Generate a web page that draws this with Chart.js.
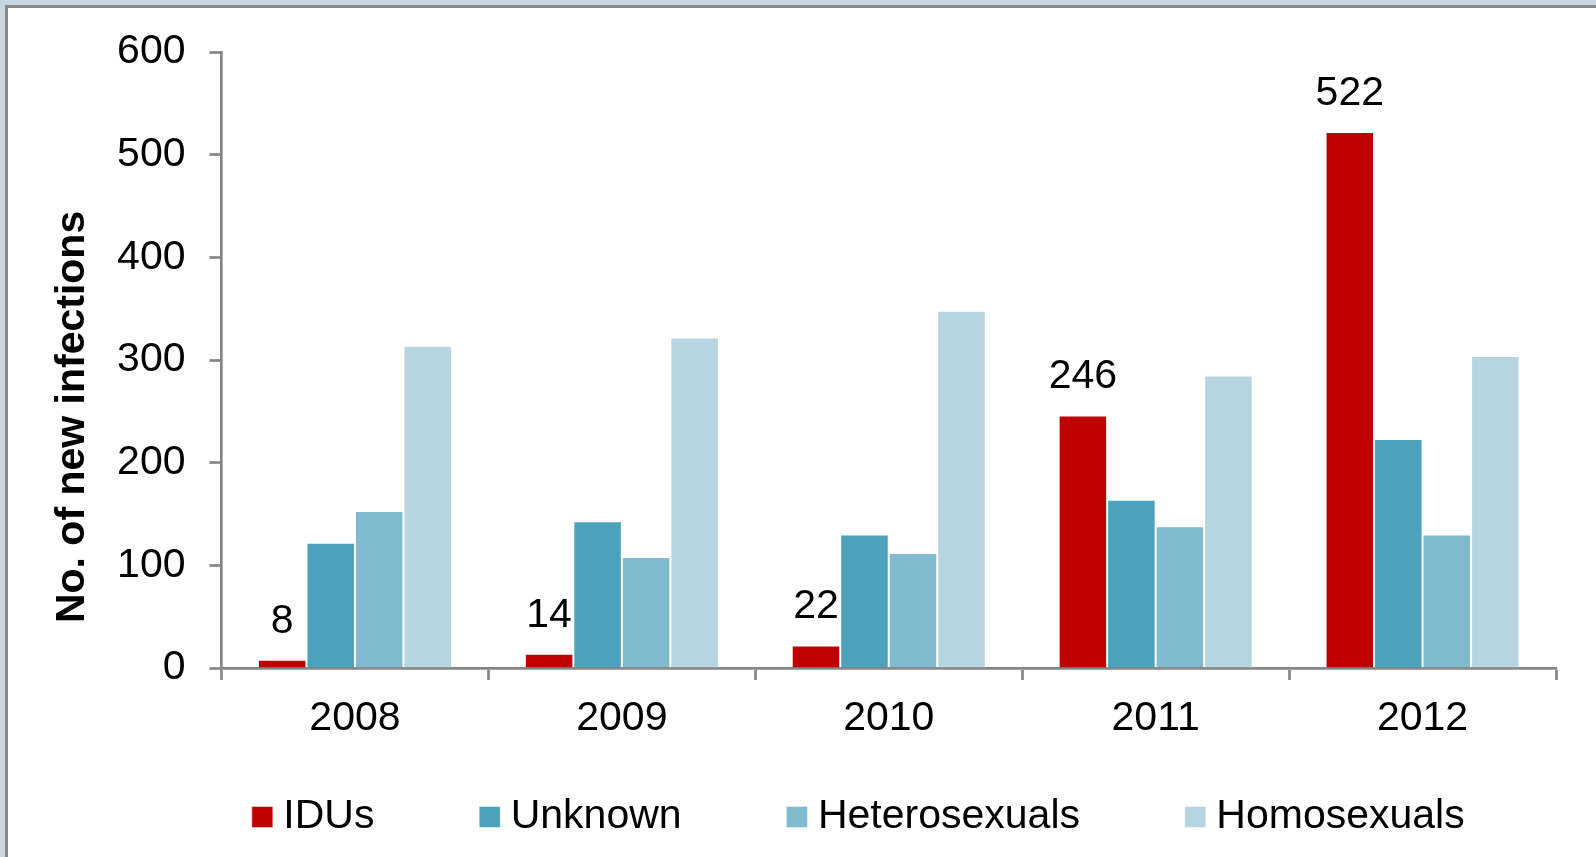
<!DOCTYPE html>
<html>
<head>
<meta charset="utf-8">
<script src="https://cdn.jsdelivr.net/npm/chart.js@4"></script>
<style>
  html, body { margin: 0; padding: 0; overflow: hidden; }
  body { width: 1596px; height: 857px; background: #c6d6e3; position: relative; }
  #panel { position: absolute; left: 5px; top: 5px; width: 1700px; height: 1000px;
           border-left: 3px solid #888; border-top: 3px solid #888; background: #fff; }
  #chart { position: absolute; left: 8px; top: 8px; }
</style>
</head>
<body>
<div id="panel"></div>
<canvas id="chart" width="1588" height="849"></canvas>
<script>
// data
const years = ["2008", "2009", "2010", "2011", "2012"];
const idus = [8, 14, 22, 246, 522];
const unknown = [122, 143, 130, 164, 223];
const heterosexuals = [153, 108, 112, 138, 130];
const homosexuals = [314, 322, 348, 285, 304];
const yTicks = [0, 100, 200, 300, 400, 500, 600];

const axisGray = "#868686";
const FONT = "Liberation Sans, Arial, sans-serif";
const FS = 41;

// numbers above the red bars only
const idusLabels = {
  id: "idusLabels",
  afterDatasetsDraw(chart) {
    const ctx = chart.ctx;
    const meta = chart.getDatasetMeta(0);
    ctx.save();
    ctx.font = FS + "px " + FONT;
    ctx.fillStyle = "#000";
    ctx.textAlign = "center";
    ctx.textBaseline = "alphabetic";
    meta.data.forEach((bar, i) => {
      ctx.fillText(String(idus[i]), bar.x, bar.y - 27);
    });
    ctx.restore();
  }
};

// put the legend row where the original has it (legend clips to its own box)
const legendPlace = {
  id: "legendPlace",
  afterLayout(chart) {
    const lg = chart.legend;
    const pad = lg.options.labels.padding;
    lg.left = 253.8 - pad;
    lg.right = 1800;
    lg.top = 809 - pad - FS / 2;
    lg.bottom = chart.height;
  }
};

const bar = (label, data, color) => ({
  label: label,
  data: data,
  backgroundColor: color,
  borderColor: "rgba(255,255,255,0.45)",
  borderWidth: 1,
  categoryPercentage: 0.727,
  barPercentage: 1.0
});

new Chart(document.getElementById("chart"), {
  type: "bar",
  data: {
    labels: years,
    datasets: [
      bar("IDUs", idus, "#c00000"),
      bar("Unknown", unknown, "#4aa3bb"),
      bar("Heterosexuals", heterosexuals, "#7fbacf"),
      bar("Homosexuals", homosexuals, "#b7d5e0")
    ]
  },
  options: {
    responsive: false,
    animation: false,
    devicePixelRatio: 1,
    layout: { padding: { top: 44, right: 40, bottom: 59, left: 0 } },
    plugins: {
      tooltip: { enabled: false },
      legend: {
        position: "bottom",
        align: "start",
        maxHeight: 60,
        labels: {
          usePointStyle: true,
          pointStyle: "rect",
          boxWidth: 1,
          boxHeight: 21,
          padding: 114.8,
          color: "#000",
          font: { family: FONT, size: FS }
        }
      }
    },
    scales: {
      x: {
        grid: {
          offset: true,
          drawOnChartArea: false,
          tickLength: 12,
          tickColor: axisGray,
          tickWidth: 2.7
        },
        border: { color: axisGray, width: 2.7 },
        ticks: { color: "#000", padding: 14, font: { family: FONT, size: FS } },
        afterFit(scale) { scale.height = 70; }
      },
      y: {
        min: 0,
        max: 600,
        afterBuildTicks(scale) { scale.ticks = yTicks.map(v => ({ value: v })); },
        grid: {
          drawOnChartArea: false,
          tickLength: 12,
          tickColor: axisGray,
          tickWidth: 2.7
        },
        border: { color: axisGray, width: 2.7 },
        ticks: { color: "#000", padding: 24, font: { family: FONT, size: FS } },
        title: {
          display: true,
          text: "No. of new infections          ",
          color: "#000",
          font: { family: FONT, size: 41, weight: "bold" },
          padding: { top: 40, bottom: 0 }
        },
        afterFit(scale) {
          scale.width = 213.5;
          scale.paddingTop = 0;
          scale.paddingBottom = 0;
        }
      }
    }
  },
  plugins: [idusLabels, legendPlace]
});
</script>
</body>
</html>
